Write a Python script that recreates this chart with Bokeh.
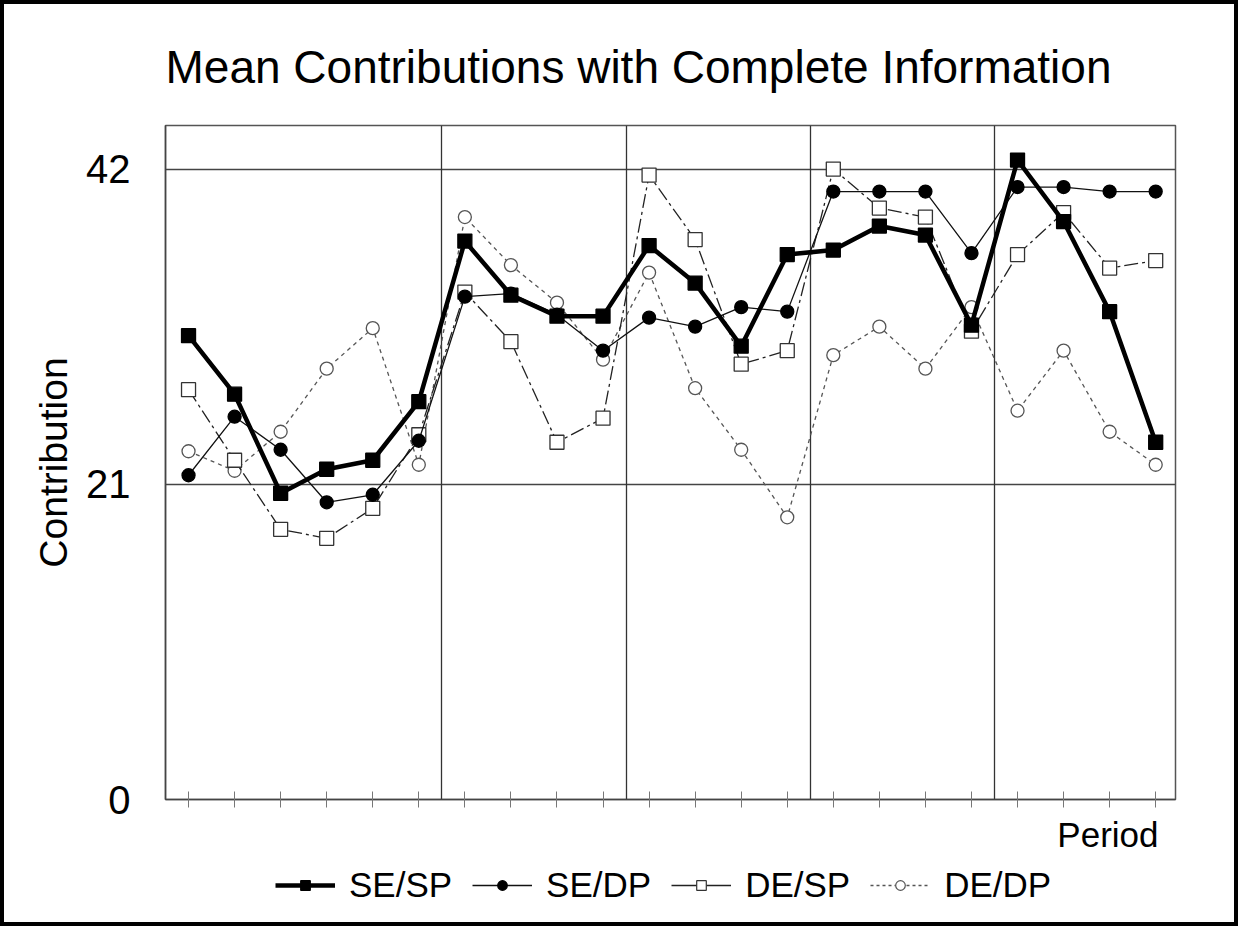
from bokeh.plotting import figure
from bokeh.layouts import column
from bokeh.models import Range1d, FixedTicker, Grid, Title, Legend, LegendItem
from bokeh.embed import file_html
from bokeh.resources import INLINE

# ---- data ----
periods = list(range(1, 23))
se_sp = [30.9, 27.0, 20.4, 22.0, 22.6, 26.5, 37.2, 33.6, 32.2, 32.2, 36.9,
         34.4, 30.2, 36.3, 36.6, 38.2, 37.6, 31.6, 42.6, 38.5, 32.5, 23.8]
se_dp = [21.6, 25.5, 23.3, 19.8, 20.3, 23.9, 33.5, 33.7, 32.3, 29.9, 32.1,
         31.5, 32.8, 32.5, 40.5, 40.5, 40.5, 36.4, 40.8, 40.8, 40.5, 40.5]
de_sp = [27.3, 22.6, 18.0, 17.4, 19.4, 24.3, 33.8, 30.5, 23.8, 25.4, 41.6,
         37.3, 29.0, 29.9, 42.0, 39.4, 38.8, 31.2, 36.3, 39.1, 35.4, 35.9]
de_dp = [23.2, 21.9, 24.5, 28.7, 31.4, 22.3, 38.8, 35.6, 33.1, 29.3, 35.1,
         27.4, 23.3, 18.8, 29.6, 31.5, 28.7, 32.8, 25.9, 29.9, 24.5, 22.3]
series_names = ["SE/SP", "SE/DP", "DE/SP", "DE/DP"]
y_ticks = [0, 21, 42]
grid_levels = [21, 42]
block_edges = [6.5, 10.5, 14.5, 18.5]

FONT = "Liberation Sans"
W = 1238
H_MAIN = 860
H_LEG = 66
BORDER = "4px solid black"

# styles per series
STYLE = {
    "SE/SP": dict(lc="black", lw=4.5, dash="solid", mk="square", fill="black", ml="black", size=14),
    "SE/DP": dict(lc="#111111", lw=1.3, dash="solid", mk="circle", fill="black", ml="black", size=13),
    "DE/SP": dict(lc="#222222", lw=1.3, dash="14 4 3 4", mk="square", fill="white", ml="#333333", size=14),
    "DE/DP": dict(lc="#555555", lw=1.3, dash="4 4", mk="circle", fill="white", ml="#555555", size=13),
}
values = {"SE/SP": se_sp, "SE/DP": se_dp, "DE/SP": de_sp, "DE/DP": de_dp}

p = figure(width=W, height=H_MAIN, output_backend="svg", toolbar_location=None,
           x_range=Range1d(0.5, 22.43), y_range=Range1d(0, 44.9),
           min_border_left=161, min_border_right=67,
           min_border_top=121, min_border_bottom=65)
p.styles = {"border-top": BORDER, "border-left": BORDER, "border-right": BORDER}
p.background_fill_color = "white"
p.border_fill_color = "white"
p.outline_line_color = "#555555"
p.outline_line_width = 1.5

p.title.text = "Mean Contributions with Complete Information"
p.title.text_font = FONT
p.title.text_font_size = "46px"
p.title.text_font_style = "normal"
p.title.text_color = "black"
p.title.standoff = 66

# x axis: unlabelled period ticks crossing the axis line
p.xaxis.ticker = FixedTicker(ticks=[], minor_ticks=periods)
p.xaxis.major_tick_in = 8
p.xaxis.major_tick_out = 8
p.xaxis.minor_tick_in = 8
p.xaxis.minor_tick_out = 8
p.xaxis.minor_tick_line_color = "#777777"
p.xaxis.minor_tick_line_width = 1
p.xaxis.major_label_standoff = 0
p.xaxis.axis_line_color = "#444444"
p.xaxis.axis_line_width = 1.5
p.xaxis.major_tick_line_color = "#777777"

# y axis
p.yaxis.ticker = FixedTicker(ticks=y_ticks)
p.yaxis.major_tick_line_color = None
p.yaxis.minor_tick_line_color = None
p.yaxis.major_tick_in = 0
p.yaxis.major_tick_out = 0
p.yaxis.major_label_standoff = 35
p.yaxis.major_label_text_font = FONT
p.yaxis.major_label_text_font_size = "40px"
p.yaxis.major_label_text_color = "black"
p.yaxis.axis_label = "Contribution"
p.yaxis.axis_label_text_font = FONT
p.yaxis.axis_label_text_font_size = "39px"
p.yaxis.axis_label_text_font_style = "normal"
p.yaxis.axis_label_text_color = "black"
p.yaxis.axis_label_standoff = 8
p.yaxis.axis_line_color = "#444444"
p.yaxis.axis_line_width = 1.5

# grids
p.xgrid.visible = False
p.ygrid.ticker = FixedTicker(ticks=grid_levels)
p.ygrid.grid_line_color = "#444444"
p.ygrid.grid_line_width = 1.3
p.add_layout(Grid(dimension=0, ticker=FixedTicker(ticks=block_edges),
                  grid_line_color="#333333", grid_line_width=1.3))

# series (light ones first so SE/SP sits on top)
for name in reversed(series_names):
    s = STYLE[name]
    p.line(periods, values[name], line_color=s["lc"], line_width=s["lw"], line_dash=s["dash"])
    p.scatter(periods, values[name], marker=s["mk"], size=s["size"], fill_color=s["fill"],
              line_color=s["ml"], line_width=1.3)

p.add_layout(Title(text="Period", align="right", text_font=FONT,
                   text_font_size="35px", text_font_style="normal",
                   text_color="black", offset=17), "below")

# legend strip: its own canvas, so the key is not clipped by the plot frame.
# The key glyphs come from the same series, drawn outside this strip's visible range.
lp = figure(width=W, height=H_LEG, output_backend="svg", toolbar_location=None,
            x_range=Range1d(-3, -2), y_range=Range1d(-3, -2),
            min_border_left=161, min_border_right=67,
            min_border_top=0, min_border_bottom=0)
lp.styles = {"border-left": BORDER, "border-right": BORDER, "border-bottom": BORDER}
lp.axis.visible = False
lp.grid.visible = False
lp.outline_line_color = None
lp.background_fill_color = "white"
lp.border_fill_color = "white"

items = []
for name in series_names:
    s = STYLE[name]
    rl = lp.line(periods, values[name], line_color=s["lc"],
                 line_width=s["lw"] if s["lw"] > 2 else 1.5,
                 line_dash="solid" if name != "DE/DP" else "3 3")
    rm = lp.scatter(periods, values[name], marker=s["mk"], size=11, fill_color=s["fill"],
                    line_color=s["ml"], line_width=1.2)
    items.append(LegendItem(label=name, renderers=[rl, rm]))

legend = Legend(items=items, orientation="horizontal", location=(110, 21))
legend.label_text_font = FONT
legend.label_text_font_size = "35px"
legend.label_text_color = "black"
legend.glyph_width = 60
legend.glyph_height = 24
legend.label_standoff = 14
legend.spacing = 20
legend.padding = 0
legend.margin = 0
legend.border_line_alpha = 0
legend.background_fill_alpha = 0
lp.add_layout(legend, "center")

layout = column(p, lp, spacing=0)
open("out.html", "w").write(file_html(layout, INLINE))
